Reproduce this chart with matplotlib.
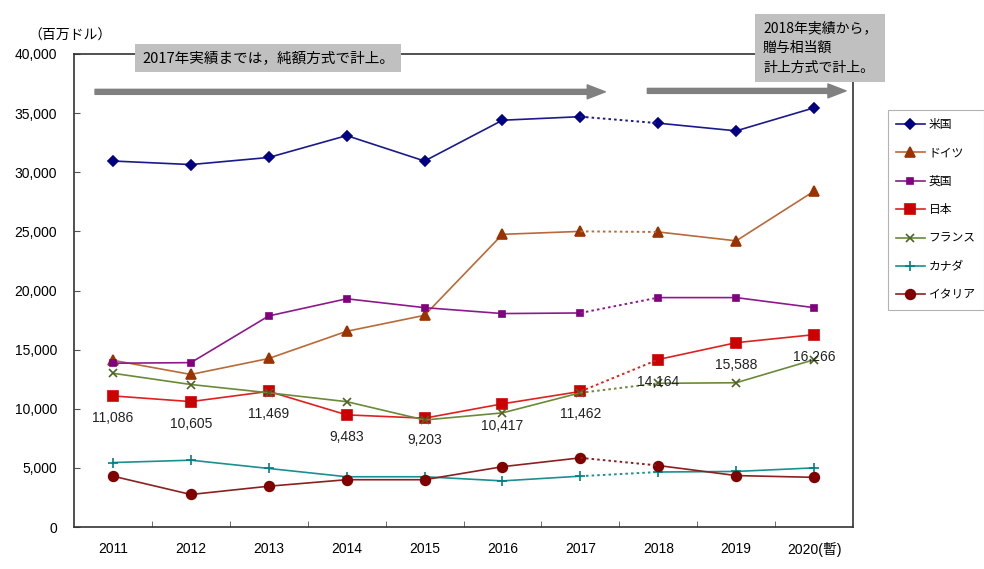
import matplotlib

matplotlib.use("Agg")
import matplotlib.pyplot as plt
from matplotlib.lines import Line2D

plt.rcParams["font.family"] = ["Liberation Sans", "Noto Sans CJK JP", "DejaVu Sans"]

# data (millions of USD)
years = ["2011", "2012", "2013", "2014", "2015", "2016", "2017", "2018", "2019", "2020(暫)"]
usa = [30950, 30650, 31250, 33100, 30950, 34400, 34700, 34150, 33500, 35450]
germany = [14100, 12900, 14250, 16550, 17900, 24750, 25000, 24950, 24200, 28400]
uk = [13850, 13900, 17850, 19300, 18550, 18050, 18100, 19400, 19400, 18550]
japan = [11086, 10605, 11469, 9483, 9203, 10417, 11462, 14164, 15588, 16266]
france = [13000, 12050, 11350, 10600, 9050, 9650, 11350, 12150, 12200, 14150]
canada = [5450, 5650, 4950, 4250, 4250, 3900, 4300, 4650, 4700, 5000]
italy = [4300, 2750, 3450, 4000, 4000, 5100, 5850, 5200, 4350, 4200]

series = [
    ("米国", usa, "#1a1a8c", "#000080", "D", 5),
    ("ドイツ", germany, "#b86a38", "#993300", "^", 6.5),
    ("英国", uk, "#8c1a8c", "#800080", "s", 4),
    ("日本", japan, "#e02020", "#cc0000", "s", 7),
    ("フランス", france, "#6a8a3a", "#4f6228", "x", 6),
    ("カナダ", canada, "#1a9090", "#008080", "+", 7),
    ("イタリア", italy, "#8b2020", "#800000", "o", 7),
]

BREAK = 6  # 2017 -> 2018 switch of accounting method, drawn dotted
CJK = ["Noto Sans CJK JP", "DejaVu Sans"]

fig = plt.figure(figsize=(9.84, 5.69), dpi=100)
ax = fig.add_axes([0.0752, 0.0738, 0.7917, 0.8313])

x = list(range(len(years)))
handles = []
for name, vals, lc, mc, mk, ms in series:
    style = dict(color=lc, marker=mk, markersize=ms, markerfacecolor=mc,
                 markeredgecolor=mc, linewidth=1.2, markeredgewidth=1.2)
    ax.plot(x[:BREAK + 1], vals[:BREAK + 1], **style)
    ax.plot(x[BREAK + 1:], vals[BREAK + 1:], **style)
    ax.plot(x[BREAK:BREAK + 2], vals[BREAK:BREAK + 2], color=lc, linewidth=1.4,
            linestyle=(0, (1.3, 1.6)))
    handles.append(Line2D([], [], label=name, **style))

for xi, v in zip(x, japan):
    ax.annotate(f"{v:,}", (xi, v), xytext=(0, -16), textcoords="offset points",
                ha="center", va="center", fontsize=10, color="#222222")

ax.set_xlim(-0.5, len(years) - 0.5)
ax.set_ylim(0, 40000)
ax.set_yticks(range(0, 40001, 5000))
ax.set_yticklabels([f"{v:,}" for v in range(0, 40001, 5000)])
ax.set_xticks(x)
ax.set_xticklabels(years)
ax.set_xticks([i + 0.5 for i in x[:-1]], minor=True)
ax.tick_params(axis="x", which="major", length=0, pad=11, labelsize=10)
ax.tick_params(axis="x", which="minor", direction="in", length=4, color="#555555")
ax.tick_params(axis="y", direction="in", length=4, pad=12, labelsize=10, color="#555555")
for sp in ax.spines.values():
    sp.set_color("#333333")
    sp.set_linewidth(1.2)

# arrows marking the two accounting periods
arrow = dict(arrowstyle="simple,head_length=1.3,head_width=1.0,tail_width=0.36",
             mutation_scale=10, color="#808080", shrinkA=0, shrinkB=0)
ax.annotate("", xy=(0.682, 0.92), xytext=(0.027, 0.92), xycoords="axes fraction",
            arrowprops=arrow, annotation_clip=False)
ax.annotate("", xy=(0.991, 0.922), xytext=(0.736, 0.922), xycoords="axes fraction",
            arrowprops=arrow, annotation_clip=False)

box = dict(boxstyle="square,pad=0.5", facecolor="#c0c0c0", edgecolor="none")
fig.text(142 / 984, 1 - 58 / 569, "2017年実績までは，純額方式で計上。", fontsize=10.5,
         va="center", ha="left", bbox=box, family=CJK)
box2 = dict(boxstyle="square,pad=0.55", facecolor="#c0c0c0", edgecolor="none")
fig.text(763 / 984, 1 - 48 / 569, "2018年実績から，\n贈与相当額\n計上方式で計上。", fontsize=10,
         va="center", ha="left", linespacing=1.5, bbox=box2, family=CJK)

fig.text(28 / 984, 1 - 36 / 569, "（百万ドル）", fontsize=10, va="center", ha="left",
         family=CJK)

leg = fig.legend(handles=handles, loc="upper left", bbox_to_anchor=(888 / 984, 1 - 110 / 569),
                 handlelength=2.4, labelspacing=1.3, fancybox=False,
                 edgecolor="#a0a0a0", borderpad=0.7, handletextpad=0.35, borderaxespad=0,
                 prop={"family": CJK, "size": 8.5})
leg.get_frame().set_linewidth(0.8)

fig.savefig("out.png", dpi=100)
